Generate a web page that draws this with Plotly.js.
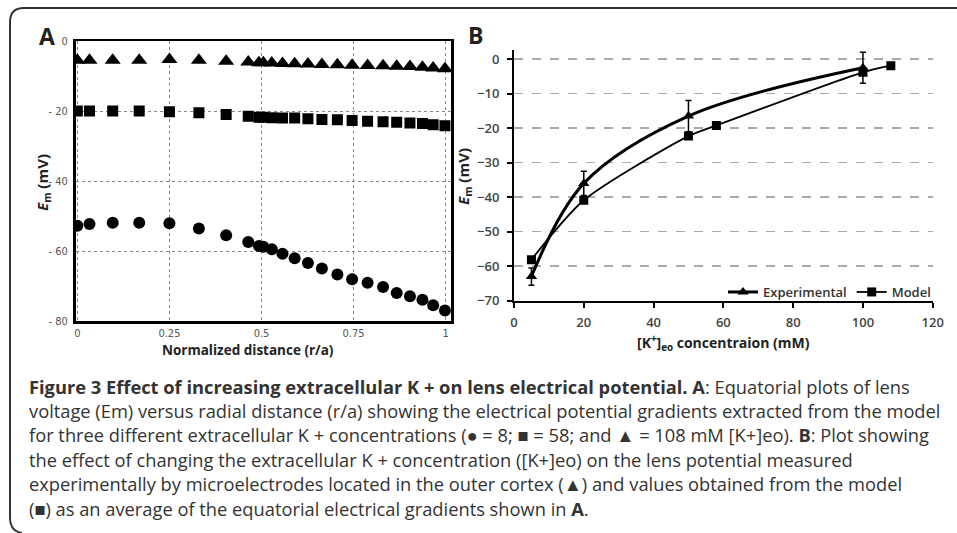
<!DOCTYPE html>
<html>
<head>
<meta charset="utf-8">
<script src="https://cdn.plot.ly/plotly-3.0.1.min.js"></script>
<style>html,body{margin:0;padding:0;background:#fff;}#chart{width:957px;height:533px;}</style>
</head>
<body>
<div id="chart"></div>
<script>
// Panel A: normalized radial distance and model potentials
var radialX = [0, 0.033, 0.096, 0.168, 0.25, 0.33, 0.404, 0.464, 0.493, 0.505, 0.528, 0.557, 0.59, 0.626, 0.664, 0.706, 0.746, 0.788, 0.83, 0.867, 0.903, 0.937, 0.966, 0.998];
var emK8 = [-52.8, -52.3, -51.9, -51.9, -52.1, -53.6, -55.5, -57.4, -58.6, -58.8, -59.5, -60.8, -62.1, -63.4, -65.0, -66.7, -68.1, -69.1, -70.3, -72.0, -72.9, -73.9, -75.5, -77.0];
var emK58 = [-20.0, -20.0, -20.0, -20.0, -20.2, -20.5, -21.0, -21.5, -21.8, -21.8, -21.9, -22.0, -22.0, -22.2, -22.4, -22.5, -22.7, -22.9, -23.1, -23.2, -23.4, -23.6, -23.9, -24.2];
var emK108 = [-5.5, -5.5, -5.5, -5.5, -5.3, -5.5, -5.8, -6.0, -6.2, -6.2, -6.3, -6.4, -6.5, -6.6, -6.7, -6.8, -6.9, -7.0, -7.1, -7.2, -7.3, -7.5, -7.7, -7.9];
var aXTicks = [0, 0.25, 0.5, 0.75, 1];
var aXTickText = ["0", "0.25", "0.5", "0.75", "1"];
var aYTicks = [0, -20, -40, -60, -80];
var aYTickText = ["0", "- 20", "- 40", "- 60", "- 80"];

// Panel B: extracellular K+ concentration vs potential
var expK = [5, 20, 50, 100];
var expEm = [-63, -36, -16.5, -2.5];
var expErr = [2.5, 3.5, 4.5, 4.5];
var modelK = [5, 20, 50, 58, 100, 108];
var modelEm = [-58.1, -40.9, -22.3, -19.2, -3.8, -1.9];
var bXTicks = [0, 20, 40, 60, 80, 100, 120];
var bYTicks = [0, -10, -20, -30, -40, -50, -60, -70];

var W = 957, H = 533;
function px(x){return x / W;}
function py(y){return (H - y) / H;}

var traces = [
  {x: radialX, y: emK8, type: 'scatter', mode: 'markers', xaxis: 'x', yaxis: 'y', showlegend: false,
   marker: {symbol: 'circle', size: 12, color: '#000'}},
  {x: radialX, y: emK58, type: 'scatter', mode: 'markers', xaxis: 'x', yaxis: 'y', showlegend: false,
   marker: {symbol: 'square', size: 11, color: '#000'}},
  {x: radialX, y: emK108, type: 'scatter', mode: 'markers', xaxis: 'x', yaxis: 'y', showlegend: false,
   marker: {symbol: 'triangle-up', size: 14, color: '#000'}},
  {x: expK, y: expEm, name: 'Experimental', type: 'scatter', mode: 'lines+markers', xaxis: 'x2', yaxis: 'y2',
   line: {color: '#000', width: 3, shape: 'spline', smoothing: 1},
   marker: {symbol: 'triangle-up', size: 10, color: '#000'},
   error_y: {type: 'data', array: expErr, visible: true, color: '#000', thickness: 1.5, width: 3}},
  {x: modelK, y: modelEm, name: 'Model', type: 'scatter', mode: 'lines+markers', xaxis: 'x2', yaxis: 'y2',
   line: {color: '#000', width: 1.8, shape: 'spline', smoothing: 0.7},
   marker: {symbol: 'square', size: 9, color: '#000'}}
];

var tickFontA = {family: 'Liberation Sans Narrow, DejaVu Sans Condensed, Arial Narrow, sans-serif', size: 11, color: '#555'};
var tickFontB = {family: 'Open Sans, sans-serif', size: 13, color: '#444', weight: 600};
var capFont = {family: 'Open Sans, sans-serif', size: 18.3, color: '#333'};

function label(text, x, y, size, angle) {
  return {text: text, xref: 'paper', yref: 'paper', x: px(x), y: py(y), xanchor: 'center', yanchor: 'middle',
          textangle: angle || 0, showarrow: false,
          font: {family: 'Open Sans, sans-serif', size: size, color: '#222'}};
}

var layout = {
  width: W, height: H,
  margin: {l: 0, r: 0, t: 0, b: 0},
  paper_bgcolor: '#fff', plot_bgcolor: '#fff',
  showlegend: true,
  legend: {orientation: 'h', x: px(936), xanchor: 'right', y: py(292), yanchor: 'middle',
           bgcolor: 'rgba(0,0,0,0)', font: {family: 'Open Sans, sans-serif', size: 13, color: '#333', weight: 600},
           itemwidth: 30, tracegroupgap: 0, traceorder: 'normal'},
  xaxis: {domain: [px(75.5), px(451.2)], range: [-0.005, 1.015], tickvals: aXTicks, ticktext: aXTickText,
          showgrid: true, gridcolor: '#888', griddash: 'dot', gridwidth: 1, zeroline: false,
          showline: true, mirror: true, linecolor: '#000', linewidth: 2.5, ticks: '', tickfont: tickFontA,
          ticklabelstandoff: 0, anchor: 'y', fixedrange: true},
  yaxis: {domain: [py(321), py(41)], range: [-80, 0], tickvals: aYTicks, ticktext: aYTickText,
          showgrid: true, gridcolor: '#888', griddash: 'dot', gridwidth: 1, zeroline: false,
          showline: true, mirror: true, linecolor: '#000', linewidth: 2.5, ticks: '', tickfont: tickFontA,
          ticklabelstandoff: 3, anchor: 'x', fixedrange: true},
  xaxis2: {domain: [px(514), px(932.7)], range: [0, 120], tickvals: bXTicks,
           showgrid: false, zeroline: false, showline: true, linecolor: '#000', linewidth: 2,
           ticks: 'outside', ticklen: 5, tickwidth: 2, tickcolor: '#000', tickfont: tickFontB,
           ticklabelstandoff: 4, anchor: 'y2', fixedrange: true},
  yaxis2: {domain: [py(300.7), py(50.2)], range: [-70, 2.6], tickvals: bYTicks,
           showgrid: true, gridcolor: '#aaa', griddash: 'dash', gridwidth: 1.5, zeroline: false,
           showline: true, linecolor: '#000', linewidth: 2,
           ticks: 'outside', ticklen: 5, tickwidth: 2, tickcolor: '#000', tickfont: tickFontB,
           ticklabelstandoff: 5, anchor: 'x2', fixedrange: true},
  shapes: [
    {type: 'path', xref: 'paper', yref: 'paper',
     path: 'M ' + px(957) + ',' + py(8) + ' L ' + px(24) + ',' + py(8) + ' Q ' + px(10) + ',' + py(8) + ' ' + px(10) + ',' + py(22) +
           ' L ' + px(10) + ',' + py(518) + ' Q ' + px(10) + ',' + py(531) + ' ' + px(22) + ',' + py(533),
     line: {color: '#333', width: 2}}
  ],
  annotations: [
    label('<b>A</b>', 47, 36, 23),
    label('<b>B</b>', 475, 35, 23),
    label('<b><i>E</i><sub>m</sub> (mV)</b>', 43, 183, 15, -90),
    label('<b>Normalized distance (r/a)</b>', 248, 350, 13.5),
    label('<b><i>E</i><sub>m</sub> (mV)</b>', 464, 177, 15, -90),
    label('<b>[K<sup>+</sup>]<sub>eo</sub> concentraion (mM)</b>', 723, 343, 14)
  ]
};

var captionLines = [
  '<b>Figure 3 Effect of increasing extracellular K + on lens electrical potential. A</b>: Equatorial plots of lens',
  'voltage (Em) versus radial distance (r/a) showing the electrical potential gradients extracted from the model',
  'for three different extracellular K + concentrations (● = 8; ■ = 58; and ▲ = 108 mM [K+]eo). <b>B</b>: Plot showing',
  'the effect of changing the extracellular K + concentration ([K+]eo) on the lens potential measured',
  'experimentally by microelectrodes located in the outer cortex (▲) and values obtained from the model',
  '(■) as an average of the equatorial electrical gradients shown in <b>A</b>.'
];
for (var i = 0; i < captionLines.length; i++) {
  layout.annotations.push({text: captionLines[i], xref: 'paper', yref: 'paper', x: px(27), y: py(386 + i * 24.4),
    xanchor: 'left', yanchor: 'middle', showarrow: false, font: capFont});
}

Plotly.newPlot('chart', traces, layout, {displayModeBar: false, staticPlot: true});
</script>
</body>
</html>
